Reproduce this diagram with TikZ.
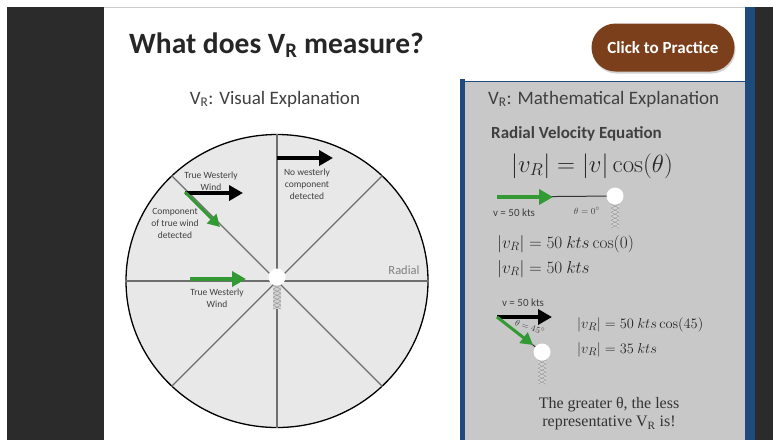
\documentclass[tikz,border=0pt]{standalone}
\usepackage[no-math]{fontspec}
\setmainfont{Carlito}
\newfontfamily\serifface{Liberation Serif}
\usetikzlibrary{arrows.meta,positioning,shapes.geometric,shadows}
\definecolor{slidedark}{HTML}{2B2B2B}
\definecolor{frameblue}{HTML}{1F4A7C}
\definecolor{panelgray}{HTML}{C8C8C8}
\definecolor{wheelgray}{HTML}{E8E8E8}
\definecolor{spokegray}{HTML}{6E6E6E}
\definecolor{labelgray}{HTML}{404040}
\definecolor{windgreen}{HTML}{339933}
\definecolor{btnbrown}{HTML}{7B3F1B}
\newcommand\fsz[2]{\fontsize{#1}{#2}\selectfont}

\begin{document}
\begin{tikzpicture}[x=1pt, y=-1pt,
    every node/.style={inner sep=0pt, text=labelgray},
    lbl/.style={font=\fsz{9.5}{12}, align=center},
    spoke/.style={draw=spokegray, line width=1.2pt},
    warr/.style={line width=3.8pt, -{Triangle[length=14pt, width=15pt]}},
    sarr/.style={line width=3pt, -{Triangle[length=12pt, width=13pt]}},
    dot/.style={circle, fill=white, minimum size=17pt},
    tower/.style={anchor=north, minimum width=8pt, minimum height=32pt,
      path picture={
        \fill[black!18] (path picture bounding box.south west) rectangle (path picture bounding box.north east);
        \foreach \k in {0,4,...,28}
          \draw[black!40, line width=.4pt]
            ([yshift=-\k pt]path picture bounding box.north west) -- ([yshift={-\k pt-4pt}]path picture bounding box.north east)
            ([yshift=-\k pt]path picture bounding box.north east) -- ([yshift={-\k pt-4pt}]path picture bounding box.north west);
      }},
    eq/.style={font=\fsz{17}{20}, text=black!85, anchor=base west}
  ]
  \useasboundingbox (0,0) rectangle (773,440);
  \fill[white] (0,0) rectangle (773,440);
  \draw[black!20] (7,7) -- (755,7);
  \fill[slidedark] (7,7) rectangle (104,440);
  \fill[frameblue] (745,7) rectangle (755,440);
  \fill[slidedark] (755,7) rectangle (773,440);

  \fill[panelgray] (462,81) rectangle (745,440);
  \draw[frameblue, line width=1pt] (462,81) -- (745,81);
  \draw[frameblue, line width=5pt] (462.5,79) -- (462.5,440);

  \node[anchor=base west, font=\bfseries\fsz{29.5}{33}, text=black!85] (title) at (129,53) {What does V\textsubscript{R} measure?};
  \node[fill=btnbrown, rounded corners=24pt, minimum width=143pt, minimum height=48pt,
    drop shadow={opacity=.35, shadow xshift=1pt, shadow yshift=-2pt},
    text=white, font=\bfseries\fsz{17}{20}] (practice) at (663,47.5) {Click to Practice};

  \node[anchor=base, font=\fsz{19}{23}] (visual) at (275,104) {V\textsubscript{R}: Visual Explanation};
  \node[anchor=base west, font=\fsz{19}{23}] (mathexp) at (488,104) {V\textsubscript{R}: Mathematical Explanation};

  % wind wheel
  \node[ellipse, draw=black, line width=1.3pt, fill=wheelgray, minimum width=302pt, minimum height=293pt] (wheel) at (277,281) {};
  \foreach \a in {0,45,...,315}
    \draw[spoke] (wheel.center) -- (wheel.\a);

  \coordinate (tw1) at (185,193);
  \coordinate (tw2) at (243,193);
  \coordinate (cw1) at (185,192);
  \coordinate (cw2) at (220,227);
  \coordinate (nw1) at (277,158);
  \coordinate (nw2) at (333,158);
  \coordinate (gw1) at (190,279);
  \coordinate (gw2) at (246,279);
  \draw[warr, black] (tw1) -- (tw2);
  \draw[sarr, windgreen] (cw1) -- (cw2);
  \draw[warr, black] (nw1) -- (nw2);
  \draw[warr, windgreen] (gw1) -- (gw2);

  \node[lbl] (twlbl) at (211,181) {True Westerly\\Wind};
  \node[lbl] (cwlbl) at (175,223) {Component\\of true wind\\detected};
  \node[lbl] (nwlbl) at (307,184) {No westerly\\component\\detected};
  \node[lbl] (gwlbl) at (217,298) {True Westerly\\Wind};
  \node[font=\fsz{12.5}{14}, text=black!50] (radial) at (404,270) {Radial};

  \coordinate (hub) at ([yshift=4pt]wheel.center);
  \node[tower] (mast) at (hub) {};
  \node[dot] (radar) at (hub) {};

  % math panel
  \node[anchor=base west, font=\bfseries\fsz{17}{20}] (rve) at (491,138) {Radial Velocity Equation};
  \node[anchor=base west, font=\fsz{25}{29}, text=black!85] (rveq) at (511,172) {$|v_R| = |v|\cos(\theta)$};

  \coordinate (hub1) at (615,196);
  \coordinate (v1) at (497,197);
  \coordinate (v1tip) at (553,197);
  \node[tower] (mast1) at (hub1) {};
  \draw[black!80, line width=1pt] (v1) -- (hub1);
  \draw[warr, windgreen] (v1) -- (v1tip);
  \node[dot] (radar1) at (hub1) {};
  \node[anchor=base, font=\fsz{11}{13}] (speed1) at (514,216) {v = 50 kts};
  \node[anchor=base, font=\fsz{9.5}{11}] (ang1) at (587,214) {$\theta = 0^{\circ}$};
  \node[eq] (calc1) at (497,248) {$|v_R| = 50\ kts\cos(0)$};
  \node[eq] (res1) at (497,273) {$|v_R| = 50\ kts$};

  \coordinate (hub2) at (542,352);
  \coordinate (v2) at (497,317);
  \coordinate (v2tip) at (552,317);
  \coordinate (g2tip) at (533,345);
  \node[tower] (mast2) at (hub2) {};
  \draw[black!80, line width=1pt] (v2) -- (hub2);
  \draw[warr, black] (v2) -- (v2tip);
  \draw[sarr, windgreen] (v2) -- (g2tip);
  \node[dot] (radar2) at (hub2) {};
  \node[anchor=base, font=\fsz{11}{13}] (speed2) at (523,306) {v = 50 kts};
  \node[font=\fsz{9.5}{10}, rotate=-18] (ang2) at (530,327) {$\theta = 45^{\circ}$};
  \node[eq, font=\fsz{15}{18}] (calc2) at (577,328) {$|v_R| = 50\ kts\cos(45)$};
  \node[eq, font=\fsz{15}{18}] (res2) at (577,353) {$|v_R| = 35\ kts$};

  \node[font=\serifface\fsz{16}{18}, align=center, text=black!80] (moral) at (609,414) {The greater θ, the less\\representative V\textsubscript{R} is!};
\end{tikzpicture}
\end{document}
